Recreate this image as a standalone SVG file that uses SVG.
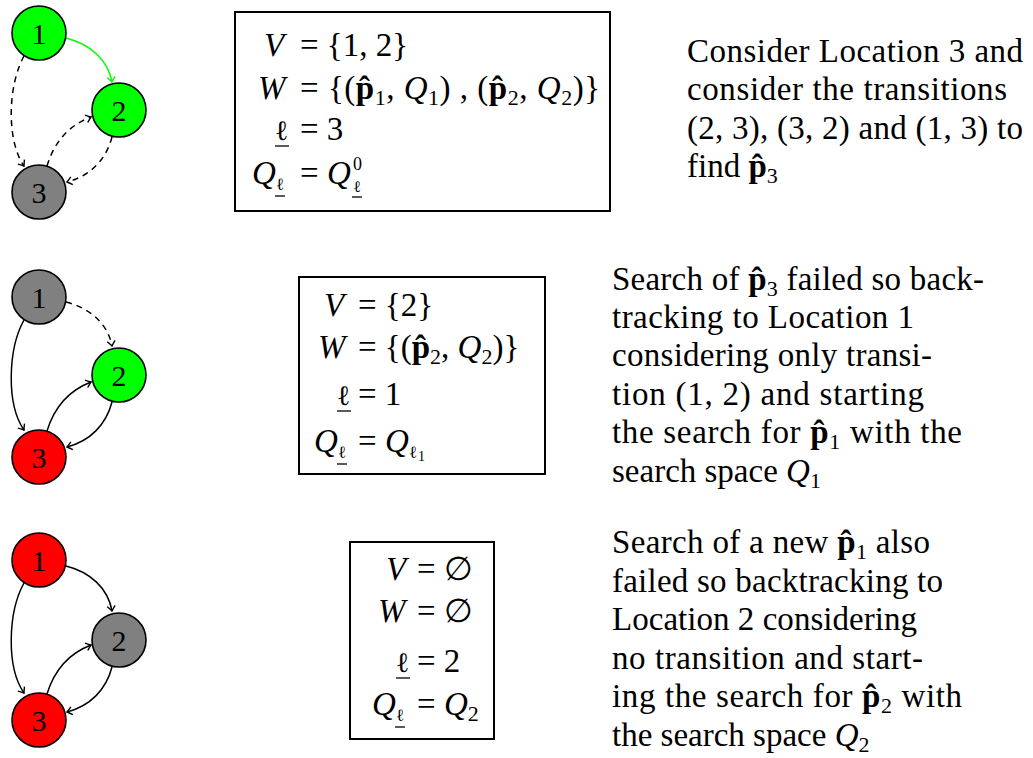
<svg xmlns="http://www.w3.org/2000/svg" width="1033" height="758" viewBox="0 0 1033 758">
<style>
.t{font-size:33px;fill:#000}
.m{font-size:33px;fill:#000}
.lbl{font-size:30px;text-anchor:middle;fill:#000}
.f2{font-family:'Liberation Serif'}
.dv{font-family:'DejaVu Serif'}
.cal{font-style:italic}
.b{font-weight:bold}
.s{font-size:22px}
.ss{font-size:18px}
.node{stroke:#000;stroke-width:1.6}
.g{fill:#00ff00}.gr{fill:#808080}.r{fill:#ff0000}
.e{fill:none;stroke:#000;stroke-width:1.5;marker-end:url(#ah)}
.d{stroke-dasharray:6,5}
.eg{fill:none;stroke:#00ff00;stroke-width:1.5;marker-end:url(#ahg)}
.box{fill:none;stroke:#000;stroke-width:2}
.ul{stroke:#000;stroke-width:1.3}
</style>
<defs>
<marker id="ah" viewBox="-6 -5 8 10" refX="0" refY="0" markerWidth="8" markerHeight="10" markerUnits="userSpaceOnUse" orient="auto">
<path d="M-5,-4 Q-1.5,-1 0,0 Q-1.5,1 -5,4" fill="none" stroke="#000" stroke-width="1.4"/>
</marker>
<marker id="ahg" viewBox="-6 -5 8 10" refX="0" refY="0" markerWidth="8" markerHeight="10" markerUnits="userSpaceOnUse" orient="auto">
<path d="M-5,-4 Q-1.5,-1 0,0 Q-1.5,1 -5,4" fill="none" stroke="#00ff00" stroke-width="1.4"/>
</marker>
</defs>

<g id="connectors">
<path class="eg" d="M66,38 C90,44 108,60 112,82"/>
<path class="e d" d="M24,56 C8,85 6,140 24,166"/>
<path class="e d" d="M47,166 C55,140 70,125 91,117"/>
<path class="e d" d="M112,137 C106,160 90,176 67,182"/>
<path class="e d" d="M66,302 C90,308 108,324 112,346"/>
<path class="e" d="M24,320 C8,349 6,404 24,430"/>
<path class="e" d="M47,431 C55,405 70,390 91,382"/>
<path class="e" d="M112,402 C106,425 90,441 67,447"/>
<path class="e" d="M66,566 C90,572 108,588 112,611"/>
<path class="e" d="M24,583 C8,612 6,667 24,693"/>
<path class="e" d="M47,694 C55,668 70,653 91,645"/>
<path class="e" d="M112,667 C106,690 90,706 67,712"/>
</g>

<g id="n1a"><circle class="node g" cx="39" cy="33" r="27"/><text class="lbl f2" x="39" y="44">1</text></g>
<g id="n2a"><circle class="node g" cx="119" cy="110" r="27"/><text class="lbl f2" x="119" y="121">2</text></g>
<g id="n3a"><circle class="node gr" cx="39" cy="192" r="27"/><text class="lbl f2" x="39" y="203">3</text></g>

<g id="n1b"><circle class="node gr" cx="39" cy="297" r="27"/><text class="lbl f2" x="39" y="308">1</text></g>
<g id="n2b"><circle class="node g" cx="119" cy="375" r="27"/><text class="lbl f2" x="119" y="386">2</text></g>
<g id="n3b"><circle class="node r" cx="39" cy="457" r="27"/><text class="lbl f2" x="39" y="468">3</text></g>

<g id="n1c"><circle class="node r" cx="39" cy="560" r="27"/><text class="lbl f2" x="39" y="571">1</text></g>
<g id="n2c"><circle class="node gr" cx="119" cy="640" r="27"/><text class="lbl f2" x="119" y="651">2</text></g>
<g id="n3c"><circle class="node r" cx="39" cy="720" r="27"/><text class="lbl f2" x="39" y="731">3</text></g>

<g id="box1">
<rect class="box" x="235" y="12" width="375" height="199"/>
<text class="m f2 cal" x="264" y="56">V</text>
<text class="m f2" x="300" y="56">= {1, 2}</text>
<text class="m f2 cal" x="258" y="99">W</text>
<text class="m f2" x="300" y="99" textLength="300" lengthAdjust="spacing">= {(<tspan class="b">p̂</tspan><tspan class="s" dy="6">1</tspan><tspan dy="-6">, </tspan><tspan class="cal">Q</tspan><tspan class="s" dy="6">1</tspan><tspan dy="-6">) , (</tspan><tspan class="b">p̂</tspan><tspan class="s" dy="6">2</tspan><tspan dy="-6">, </tspan><tspan class="cal">Q</tspan><tspan class="s" dy="6">2</tspan><tspan dy="-6">)}</tspan></text>
<text class="m dv" x="275" y="140" style="font-size:28px">ℓ</text><line class="ul" x1="275" y1="146" x2="289" y2="146"/>
<text class="m f2" x="300" y="140">= 3</text>
<text class="m f2 cal" x="252" y="184">Q</text>
<text class="m dv" x="276" y="190" style="font-size:17px">ℓ</text><line class="ul" x1="275" y1="196" x2="285" y2="196"/>
<text class="m f2" x="300" y="184">= <tspan class="cal">Q</tspan></text>
<text class="m f2 ss" x="353" y="170">0</text>
<text class="m dv" x="353" y="192" style="font-size:16px">ℓ</text><line class="ul" x1="352" y1="197" x2="362" y2="197"/>
</g>

<g id="box2">
<rect class="box" x="299" y="277" width="246" height="197"/>
<text class="m f2 cal" x="324" y="316">V</text>
<text class="m f2" x="358" y="316">= {2}</text>
<text class="m f2 cal" x="318" y="358">W</text>
<text class="m f2" x="358" y="358">= {(<tspan class="b">p̂</tspan><tspan class="s" dy="6">2</tspan><tspan dy="-6">, </tspan><tspan class="cal">Q</tspan><tspan class="s" dy="6">2</tspan><tspan dy="-6">)}</tspan></text>
<text class="m dv" x="337" y="405" style="font-size:28px">ℓ</text><line class="ul" x1="337" y1="411" x2="351" y2="411"/>
<text class="m f2" x="358" y="405">= 1</text>
<text class="m f2 cal" x="314" y="452">Q</text>
<text class="m dv" x="338" y="458" style="font-size:17px">ℓ</text><line class="ul" x1="337" y1="464" x2="347" y2="464"/>
<text class="m f2" x="358" y="452">= <tspan class="cal">Q</tspan></text>
<text class="m dv" x="409" y="458" style="font-size:17px">ℓ</text>
<text class="m f2" x="418" y="461" style="font-size:14px">1</text>
</g>

<g id="box3">
<rect class="box" x="350" y="542" width="144" height="197"/>
<text class="m f2 cal" x="386" y="580">V</text>
<text class="m f2" x="417" y="580">= <tspan class="dv">∅</tspan></text>
<text class="m f2 cal" x="378" y="622">W</text>
<text class="m f2" x="417" y="622">= <tspan class="dv">∅</tspan></text>
<text class="m dv" x="396" y="672" style="font-size:28px">ℓ</text><line class="ul" x1="396" y1="678" x2="410" y2="678"/>
<text class="m f2" x="417" y="672">= 2</text>
<text class="m f2 cal" x="372" y="715">Q</text>
<text class="m dv" x="396" y="721" style="font-size:17px">ℓ</text><line class="ul" x1="395" y1="727" x2="405" y2="727"/>
<text class="m f2" x="417" y="715">= <tspan class="cal">Q</tspan><tspan class="s" dy="6">2</tspan></text>
</g>

<g id="text1">
<text class="t f2" x="687" y="62" textLength="336" lengthAdjust="spacing">Consider Location 3 and</text>
<text class="t f2" x="687" y="100" textLength="320" lengthAdjust="spacing">consider the transitions</text>
<text class="t f2" x="687" y="139" textLength="336" lengthAdjust="spacing">(2, 3), (3, 2) and (1, 3) to</text>
<text class="t f2" x="687" y="177">find <tspan class="b">p̂</tspan><tspan class="s" dy="6">3</tspan></text>
</g>

<g id="text2">
<text class="t f2" x="612" y="290" textLength="372" lengthAdjust="spacing">Search of <tspan class="b">p̂</tspan><tspan class="s" dy="6">3</tspan><tspan dy="-6"> failed so back-</tspan></text>
<text class="t f2" x="612" y="328" textLength="302" lengthAdjust="spacing">tracking to Location 1</text>
<text class="t f2" x="612" y="366" textLength="320" lengthAdjust="spacing">considering only transi-</text>
<text class="t f2" x="612" y="405" textLength="312" lengthAdjust="spacing">tion (1, 2) and starting</text>
<text class="t f2" x="612" y="443" textLength="350" lengthAdjust="spacing">the search for <tspan class="b">p̂</tspan><tspan class="s" dy="6">1</tspan><tspan dy="-6"> with the</tspan></text>
<text class="t f2" x="612" y="482">search space <tspan class="cal">Q</tspan><tspan class="s" dy="6">1</tspan></text>
</g>

<g id="text3">
<text class="t f2" x="612" y="553" textLength="318" lengthAdjust="spacing">Search of a new <tspan class="b">p̂</tspan><tspan class="s" dy="6">1</tspan><tspan dy="-6"> also</tspan></text>
<text class="t f2" x="612" y="592" textLength="331" lengthAdjust="spacing">failed so backtracking to</text>
<text class="t f2" x="612" y="630" textLength="305" lengthAdjust="spacing">Location 2 considering</text>
<text class="t f2" x="612" y="669" textLength="311" lengthAdjust="spacing">no transition and start-</text>
<text class="t f2" x="612" y="707" textLength="350" lengthAdjust="spacing">ing the search for <tspan class="b">p̂</tspan><tspan class="s" dy="6">2</tspan><tspan dy="-6"> with</tspan></text>
<text class="t f2" x="612" y="746">the search space <tspan class="cal">Q</tspan><tspan class="s" dy="6">2</tspan></text>
</g>
</svg>
